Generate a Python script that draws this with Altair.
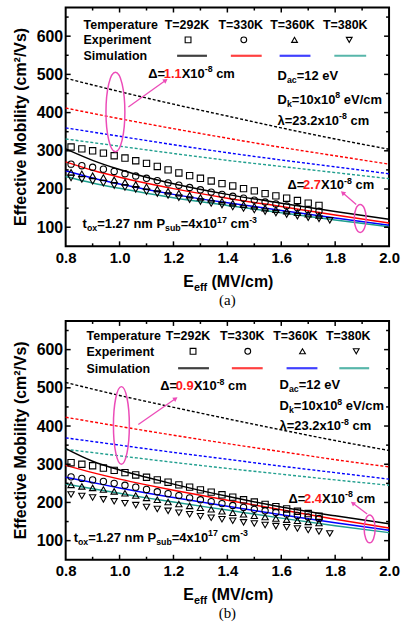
import math
import altair as alt
import pandas as pd

SANS = "Liberation Sans"
SERIF = "Liberation Serif"
MAGENTA = "#ec4cb8"
RED_TXT = "#ff1a1a"

# plot area size of each panel (px) and axis ranges
W, H = 325, 240
X_DOMAIN = [0.8, 2.0]
Y_DOMAIN = [50, 675]
X_LABELS = [0.8, 1.0, 1.2, 1.4, 1.6, 1.8, 2.0]
X_MAJOR_TICKS = [1.0, 1.2, 1.4, 1.6, 1.8]
X_MINOR_TICKS = [0.9, 1.1, 1.3, 1.5, 1.7, 1.9]
Y_LABELS = [100, 200, 300, 400, 500, 600]
Y_MINOR_TICKS = [150, 250, 350, 450, 550, 650]

TEMPS = ["T=292K", "T=330K", "T=360K", "T=380K"]
LINE_COLORS = ["#000000", "#ff0000", "#0000ff", "#1f9e8e"]
SHAPES = ["square", "circle", "triangle-up", "triangle-down"]

# field grids (MV/cm)
E_SIM = [0.8, 0.9, 1.0, 1.1, 1.2, 1.4, 1.6, 1.8, 2.0]
E_DASH = [0.8, 1.0, 1.2, 1.4, 1.6, 1.8, 2.0]
E_EXP = [0.82, 0.86, 0.90, 0.94, 0.98, 1.02, 1.06, 1.10, 1.14, 1.18, 1.22, 1.26,
         1.30, 1.34, 1.38, 1.42, 1.46, 1.50, 1.54, 1.58, 1.62, 1.66, 1.70, 1.74]
E_EXP_380 = E_EXP + [1.78]

# ---- panel (a): effective mobility (cm^2/Vs) ----
A_SOLID_292 = [305, 275, 251, 231, 214, 186, 163, 141, 121]
A_SOLID_330 = [271, 249, 231, 215, 201, 176, 154, 132, 111]
A_SOLID_360 = [248, 229, 213, 199, 186, 164, 144, 124, 105]
A_SOLID_380 = [233, 216, 202, 189, 177, 157, 138, 119, 101]
A_DASH_292 = [490, 455, 422, 391, 360, 331, 304]
A_DASH_330 = [412, 384, 358, 333, 309, 287, 265]
A_DASH_360 = [360, 338, 316, 295, 276, 258, 240]
A_DASH_380 = [331, 312, 293, 275, 259, 243, 227]
A_EXP_292 = [310, 305, 300, 294, 287, 281, 274, 267, 259, 250, 242, 235,
             228, 221, 214, 208, 201, 195, 188, 182, 176, 170, 163, 157]
A_EXP_330 = [265, 261, 257, 252, 246, 240, 234, 228, 222, 216, 210, 204,
             198, 192, 186, 181, 176, 171, 166, 161, 156, 151, 146, 142]
A_EXP_360 = [244, 240, 235, 230, 224, 218, 212, 206, 200, 194, 189, 184,
             178, 173, 168, 163, 159, 155, 150, 146, 142, 138, 134, 131]
A_EXP_380 = [229, 225, 220, 215, 209, 204, 199, 193, 188, 183, 177, 172,
             167, 162, 158, 153, 149, 145, 141, 137, 133, 129, 125, 122, 118]

# ---- panel (b) ----
B_SOLID_292 = [341, 308, 285, 266, 248, 216, 188, 165, 144]
B_SOLID_330 = [297, 278, 261, 246, 232, 206, 181, 156, 133]
B_SOLID_360 = [266, 252, 238, 225, 213, 190, 168, 147, 127]
B_SOLID_380 = [248, 236, 224, 212, 201, 180, 159, 139, 121]
B_DASH_292 = [514, 480, 449, 419, 390, 362, 336]
B_DASH_330 = [423, 399, 376, 354, 333, 312, 293]
B_DASH_360 = [369, 350, 331, 313, 295, 278, 261]
B_DASH_380 = [339, 322, 305, 289, 274, 259, 245]
B_EXP_292 = [304, 300, 296, 290, 284, 278, 272, 266, 259, 253, 246, 240,
             233, 227, 220, 214, 207, 201, 195, 189, 183, 177, 171, 164]
B_EXP_330 = [267, 263, 259, 255, 250, 245, 240, 234, 228, 223, 218, 212,
             207, 202, 197, 192, 187, 182, 178, 174, 170, 166, 162, 158]
B_EXP_360 = [246, 242, 238, 234, 229, 224, 218, 212, 207, 201, 196, 191,
             186, 182, 177, 173, 169, 165, 162, 158, 155, 152, 149, 146]
B_EXP_380 = [221, 217, 213, 208, 203, 198, 193, 188, 183, 178, 173, 169,
             164, 160, 156, 152, 148, 145, 141, 138, 135, 132, 128, 124, 119]

# Arial/Liberation Sans Bold advance widths (1/1000 em) for laying out rich text
ADV = {" ": 278, "(": 333, ")": 333, "/": 278, "-": 333, ".": 278, "=": 584,
       "a": 556, "b": 611, "c": 556, "e": 556, "f": 333, "i": 278, "k": 556,
       "l": 278, "m": 889, "n": 611, "o": 611, "p": 611, "r": 389, "s": 556,
       "t": 333, "u": 611, "v": 556, "x": 556, "y": 556, "T": 611, "E": 667,
       "S": 667, "D": 722, "P": 667, "K": 722, "V": 667, "X": 667, "M": 833,
       "\u0394": 612, "\u03bb": 556}
for d in "0123456789":
    ADV[d] = 556


def text_width(s, size):
    return sum(ADV.get(ch, 556) for ch in s) * size / 1000.0


def N(t, c="black"):
    return (t, "n", c)


def SUB(t, c="black"):
    return (t, "sub", c)


def SUP(t, c="black"):
    return (t, "sup", c)


def rich(segs, x, y, size=13, anchor="left"):
    """Text with sub/superscripts; (x, y) is the left (or centre) at cap-height middle."""
    pieces = []
    total = 0.0
    for txt, role, color in segs:
        fs = size if role == "n" else size * 0.68
        w = text_width(txt, fs)
        pieces.append((txt, role, color, fs, w))
        total += w
    cx = x - total / 2 if anchor == "center" else x
    base = y + 0.36 * size
    layers = []
    for txt, role, color, fs, w in pieces:
        lead = len(txt) - len(txt.lstrip(" "))
        body = txt.strip(" ")
        by = base + (0.24 * size if role == "sub" else -0.42 * size if role == "sup" else 0)
        if body:
            layers.append(
                alt.Chart(pd.DataFrame({"t": [body]}))
                .mark_text(align="left", baseline="alphabetic", font=SANS,
                           fontSize=fs, fontWeight="bold", color=color)
                .encode(x=alt.value(cx + text_width(" " * lead, fs)),
                        y=alt.value(by), text="t:N")
            )
        cx += w
    return layers


def ellipse(cx, cy, rx, ry):
    a = rx / ry
    k = 0.5523
    path = (f"M 0 -1 C {k*a:.4f} -1 {a:.4f} {-k:.4f} {a:.4f} 0 "
            f"C {a:.4f} {k:.4f} {k*a:.4f} 1 0 1 "
            f"C {-k*a:.4f} 1 {-a:.4f} {k:.4f} {-a:.4f} 0 "
            f"C {-a:.4f} {-k:.4f} {-k*a:.4f} -1 0 -1 Z")
    return (alt.Chart(pd.DataFrame({"k": [0]}))
            .mark_point(shape=path, size=(2 * ry) ** 2, filled=False,
                        stroke=MAGENTA, strokeWidth=1.5, opacity=1)
            .encode(x=alt.value(cx), y=alt.value(cy)))


def arrow(x0, y0, x1, y1):
    dx, dy = x1 - x0, y1 - y0
    L = math.hypot(dx, dy)
    ux, uy = dx / L, dy / L
    hx, hy = x1 - 2.6 * ux, y1 - 2.6 * uy
    ang = math.degrees(math.atan2(dx, -dy)) % 360
    one = pd.DataFrame({"k": [0]})
    shaft = (alt.Chart(one).mark_rule(color=MAGENTA, strokeWidth=1.3)
             .encode(x=alt.value(x0), y=alt.value(y0), x2=alt.value(hx), y2=alt.value(hy)))
    head = (alt.Chart(one).mark_point(shape="triangle", angle=round(ang, 1), size=28,
                                      filled=True, color=MAGENTA, opacity=1)
            .encode(x=alt.value(hx), y=alt.value(hy)))
    return [shaft, head]


def long_table(xs, series):
    rows = []
    for temp, vals in zip(TEMPS, series):
        for e, v in zip(xs[temp] if isinstance(xs, dict) else xs, vals):
            rows.append({"E": e, "mu": v, "T": temp})
    return pd.DataFrame(rows)


X = alt.X("E:Q", scale=alt.Scale(domain=X_DOMAIN, nice=False, zero=False),
          axis=alt.Axis(values=X_LABELS, format=".1f", title=None, ticks=False,
                        domain=False, grid=False, labelFont=SANS, labelFontSize=15,
                        labelFontWeight="bold", labelColor="black", labelPadding=4,
                        labelFlush=False, labelOverlap=False))
Y = alt.Y("mu:Q", scale=alt.Scale(domain=Y_DOMAIN, nice=False, zero=False),
          axis=alt.Axis(values=Y_LABELS, title=None, ticks=False, domain=False,
                        grid=False, labelFont=SANS, labelFontSize=16,
                        labelFontWeight="bold", labelColor="black", labelPadding=3))


def tick_layers():
    out = []
    for vals, ln in ((X_MAJOR_TICKS, 5), (X_MINOR_TICKS, 3)):
        d = pd.DataFrame({"E": vals})
        out.append(alt.Chart(d).mark_rule(color="black", strokeWidth=1.5)
                   .encode(x=X, y=alt.value(H), y2=alt.value(H - ln)))
        out.append(alt.Chart(d).mark_rule(color="black", strokeWidth=1.5)
                   .encode(x=X, y=alt.value(0), y2=alt.value(ln)))
    for vals, ln in ((Y_LABELS, 5), (Y_MINOR_TICKS, 3)):
        d = pd.DataFrame({"mu": vals})
        out.append(alt.Chart(d).mark_rule(color="black", strokeWidth=1.5)
                   .encode(y=Y, x=alt.value(0), x2=alt.value(ln)))
        out.append(alt.Chart(d).mark_rule(color="black", strokeWidth=1.5)
                   .encode(y=Y, x=alt.value(W), x2=alt.value(W - ln)))
    return out


def panel(solid, dashed, exp, lay, first):
    color = alt.Color("T:N", scale=alt.Scale(domain=TEMPS, range=LINE_COLORS), legend=None)
    df_solid = long_table(E_SIM, solid)
    df_dash = long_table(E_DASH, dashed)
    exp_x = {TEMPS[0]: E_EXP, TEMPS[1]: E_EXP, TEMPS[2]: E_EXP, TEMPS[3]: E_EXP_380}
    df_exp = long_table(exp_x, exp)

    layers = []
    if first:
        # fixes the top-left corner of the whole figure
        layers.append(alt.Chart(pd.DataFrame({"k": [0]})).mark_rule(color="white", strokeWidth=1)
                      .encode(x=alt.value(-64.5), x2=alt.value(335.5), y=alt.value(-4.5)))
    layers.append(alt.Chart(df_dash).mark_line(strokeWidth=1.4, strokeDash=[3, 2],
                                               interpolate="monotone")
                  .encode(x=X, y=Y, color=color, detail="T:N"))
    layers.append(alt.Chart(df_solid).mark_line(strokeWidth=1.5, interpolate="monotone")
                  .encode(x=X, y=Y, color=color, detail="T:N"))
    layers.append(alt.Chart(df_exp).mark_point(filled=False, color="black", strokeWidth=1.1,
                                               size=40, opacity=1)
                  .encode(x=X, y=Y, shape=alt.Shape("T:N", scale=alt.Scale(domain=TEMPS, range=SHAPES),
                                                     legend=None)))
    layers += tick_layers()

    # legend block
    ly = lay["leg_y"]
    fs = 12.5
    layers += rich([N("Temperature")], lay["leg_x"], ly[0], size=fs)
    layers += rich([N("Experiment")], lay["leg_x"], ly[1], size=fs)
    layers += rich([N("Simulation")], lay["leg_x"], ly[2], size=fs)
    for i, temp in enumerate(TEMPS):
        layers += rich([N(temp)], lay["leg_col"][i], ly[0], size=fs, anchor="center")
        layers.append(alt.Chart(pd.DataFrame({"k": [0]}))
                      .mark_point(shape=SHAPES[i], filled=False, color="black",
                                  strokeWidth=1.1, size=34, opacity=1)
                      .encode(x=alt.value(lay["leg_sym"][i]), y=alt.value(ly[1])))
        x0, x1 = lay["leg_line"][i]
        layers.append(alt.Chart(pd.DataFrame({"k": [0]}))
                      .mark_rule(color=LINE_COLORS[i], strokeWidth=2.2, opacity=0.75)
                      .encode(x=alt.value(x0), x2=alt.value(x1), y=alt.value(ly[2])))

    # annotations
    dx, dy, dval = lay["delta1"]
    layers += rich([N("\u0394="), N(dval, RED_TXT), N("X10"), SUP("-8"), N(" cm")], dx, dy)
    dx, dy, dval = lay["delta2"]
    layers += rich([N("\u0394="), N(dval, RED_TXT), N("X10"), SUP("-8"), N(" cm")], dx, dy)
    px = lay["par_x"]
    py = lay["par_y"]
    layers += rich([N("D"), SUB("ac"), N("=12 eV")], px, py[0])
    layers += rich([N("D"), SUB("k"), N("=10x10"), SUP("8"), N(" eV/cm")], px, py[1])
    layers += rich([N("\u03bb=23.2x10"), SUP("-8"), N(" cm")], px, py[2])
    tx, ty = lay["tox"]
    layers += rich([N("t"), SUB("ox"), N("=1.27 nm P"), SUB("sub"), N("=4x10"), SUP("17"),
                    N(" cm"), SUP("-3")], tx, ty)
    layers.append(ellipse(*lay["ell1"]))
    layers += arrow(*lay["arr1"])
    layers.append(ellipse(*lay["ell2"]))
    layers += arrow(*lay["arr2"])

    # axis titles and caption
    layers.append(alt.Chart(pd.DataFrame({"t": ["Effective Mobility (cm\u00b2/Vs)"]}))
                  .mark_text(angle=270, align="center", baseline="middle", font=SANS,
                             fontSize=16, fontWeight="bold", color="black")
                  .encode(x=alt.value(-45), y=alt.value(H / 2), text="t:N"))
    layers += rich([N("E"), SUB("eff"), N(" (MV/cm)")], W / 2 + 1, H + 35, size=16, anchor="center")
    layers.append(alt.Chart(pd.DataFrame({"t": [lay["caption"]]}))
                  .mark_text(align="center", baseline="middle", font=SERIF, fontSize=15,
                             color="black")
                  .encode(x=alt.value(W / 2), y=alt.value(H + 54), text="t:N"))

    return alt.layer(*layers).properties(width=W, height=H)


LAYOUT_A = dict(
    leg_y=[17.5, 32.5, 48.5], leg_x=18,
    leg_col=[122, 176, 228, 281], leg_sym=[123, 179, 230, 285],
    leg_line=[(112, 142), (166, 197), (215, 246), (270, 302)],
    delta1=(83, 66, "1.1"), delta2=(223, 178, "2.7"),
    par_x=213, par_y=[68, 92, 113], tox=(17, 217),
    ell1=(50, 105, 9.5, 40), arr1=(63, 100, 102, 72),
    ell2=(296, 212, 6, 14), arr2=(292, 198, 277, 185),
    caption="(a)",
)
LAYOUT_B = dict(
    leg_y=[14.5, 30.5, 47.5], leg_x=21,
    leg_col=[123, 177.5, 231, 284], leg_sym=[128, 183, 238, 292],
    leg_line=[(113, 144), (167, 198), (222, 253), (275, 305)],
    delta1=(95, 65, "0.9"), delta2=(224, 178, "2.4"),
    par_x=215, par_y=[64, 85, 105], tox=(8, 217),
    ell1=(56, 105, 8, 39), arr1=(73, 104, 112, 77),
    ell2=(305.5, 209, 5.5, 14), arr2=(303, 194, 287, 182),
    caption="(b)",
)

top = panel([A_SOLID_292, A_SOLID_330, A_SOLID_360, A_SOLID_380],
            [A_DASH_292, A_DASH_330, A_DASH_360, A_DASH_380],
            [A_EXP_292, A_EXP_330, A_EXP_360, A_EXP_380], LAYOUT_A, True)
bottom = panel([B_SOLID_292, B_SOLID_330, B_SOLID_360, B_SOLID_380],
               [B_DASH_292, B_DASH_330, B_DASH_360, B_DASH_380],
               [B_EXP_292, B_EXP_330, B_EXP_360, B_EXP_380], LAYOUT_B, False)

chart = (alt.vconcat(top, bottom, spacing=75, bounds="flush")
         .properties(padding=0, background="white")
         .configure_view(stroke="black", strokeWidth=2))

chart.save("out.html", embed_options={"renderer": "svg", "actions": False})
